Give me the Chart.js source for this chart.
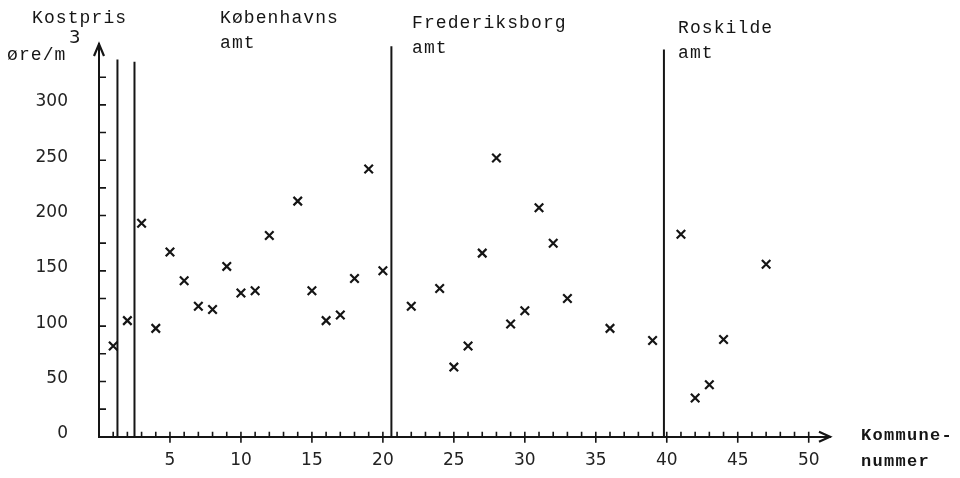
<!DOCTYPE html>
<html lang="da">
<head>
    <meta charset="UTF-8">
    <title>Kostpris pr. kommune</title>
    <script src="https://cdn.jsdelivr.net/npm/chart.js"></script>
    <style>
        body {
            margin: 0;
            padding: 0;
            background: #fff;
        }

        .chart-wrap {
            position: relative;
            width: 960px;
            height: 478px;
        }
    </style>
</head>
<body>
    <div class="chart-wrap">
        <canvas id="kostChart"></canvas>
    </div>

    <script>
        // Kommunenummer and kostpris (øre/m3)
        const kommune = [1, 2, 3, 4, 5, 6, 7, 8, 9, 10, 11, 12, 14, 15, 16, 17, 18, 19, 20,
                         22, 24, 25, 26, 27, 28, 29, 30, 31, 32, 33, 36, 39,
                         41, 42, 43, 44, 47];
        const kostpris = [82, 105, 193, 98, 167, 141, 118, 115, 154, 130, 132, 182, 213, 132, 105, 110, 143, 242, 150,
                          118, 134, 63, 82, 166, 252, 102, 114, 207, 175, 125, 98, 87,
                          183, 35, 47, 88, 156];

        // amt boundaries (x position) and how high each line reaches
        const dividerX = [1.3, 2.5, 20.6, 39.8];
        const dividerTop = [341, 339, 353, 350];

        // axis ticks
        const yTickValues = [0, 25, 50, 75, 100, 125, 150, 175, 200, 225, 250, 275, 300, 325];
        const yLabels = [0, 50, 100, 150, 200, 250, 300];
        const xTickValues = Array.from({ length: 50 }, (_, i) => i + 1);
        const xLabels = [5, 10, 15, 20, 25, 30, 35, 40, 45, 50];

        const amtLabels = [
            { lines: ['Københavns', 'amt'], x: 220, y: 23 },
            { lines: ['Frederiksborg', 'amt'], x: 412, y: 28 },
            { lines: ['Roskilde', 'amt'], x: 678, y: 33 }
        ];

        const INK = '#151515';
        const MONO = '"Liberation Mono", "DejaVu Sans Mono", monospace';

        // axis arrows, inward tick marks and the typed labels
        const paperPlugin = {
            id: 'paper',
            afterDraw(chart) {
                const ctx = chart.ctx;
                const x = chart.scales.x;
                const y = chart.scales.y;
                const x0 = x.left;
                const y0 = y.bottom;

                ctx.save();
                ctx.strokeStyle = INK;
                ctx.fillStyle = INK;
                ctx.lineWidth = 1.6;
                ctx.beginPath();
                xTickValues.forEach(v => {
                    const px = x.getPixelForValue(v);
                    const major = xLabels.includes(v);
                    ctx.moveTo(px, y0 - 5);
                    ctx.lineTo(px, y0 + (major ? 6 : 0));
                });
                yTickValues.forEach(v => {
                    if (v === 0) return;
                    const py = y.getPixelForValue(v);
                    ctx.moveTo(x0, py);
                    ctx.lineTo(x0 + 7, py);
                });
                ctx.stroke();

                // arrow heads
                ctx.lineWidth = 2.2;
                ctx.beginPath();
                ctx.moveTo(x0 - 5, y.top + 12);
                ctx.lineTo(x0, y.top);
                ctx.lineTo(x0 + 5, y.top + 12);
                ctx.moveTo(x.right - 11, y0 - 5);
                ctx.lineTo(x.right, y0);
                ctx.lineTo(x.right - 11, y0 + 5);
                ctx.stroke();

                // typed texts
                ctx.font = '18px ' + MONO;
                ctx.letterSpacing = '1.1px';
                ctx.textBaseline = 'alphabetic';
                ctx.textAlign = 'left';
                ctx.fillText('Kostpris', 32, 23);
                ctx.fillText('øre/m', 7, 60);
                amtLabels.forEach(a => {
                    a.lines.forEach((line, i) => ctx.fillText(line, a.x, a.y + i * 25));
                });

                ctx.font = 'bold 17px ' + MONO;
                ctx.letterSpacing = '1.3px';
                ctx.fillText('Kommune-', 861, 440);
                ctx.fillText('nummer', 861, 466);

                ctx.letterSpacing = '0px';
                ctx.font = '18px "DejaVu Sans", sans-serif';
                ctx.fillText('3', 69, 43);
                ctx.restore();
            }
        };

        const points = kommune.map((k, i) => ({ x: k, y: kostpris[i] }));

        const dividers = dividerX.map((dx, i) => ({
            type: 'line',
            data: [{ x: dx, y: 0 }, { x: dx, y: dividerTop[i] }],
            borderColor: INK,
            borderWidth: 2,
            pointRadius: 0,
            fill: false
        }));

        new Chart(document.getElementById('kostChart'), {
            type: 'scatter',
            data: {
                datasets: [{
                    label: 'Kostpris',
                    data: points,
                    pointStyle: 'crossRot',
                    pointRadius: 6,
                    borderColor: INK,
                    borderWidth: 2.2
                }].concat(dividers)
            },
            options: {
                responsive: true,
                maintainAspectRatio: false,
                animation: false,
                layout: {
                    padding: { left: 0, right: 130, top: 44, bottom: 0 }
                },
                plugins: {
                    legend: { display: false },
                    tooltip: { enabled: false }
                },
                scales: {
                    x: {
                        type: 'linear',
                        min: 0,
                        max: 51.5,
                        afterBuildTicks: s => { s.ticks = xTickValues.map(v => ({ value: v })); },
                        afterFit: s => { s.height = 37; },
                        grid: { display: true, drawOnChartArea: false, drawTicks: false },
                        border: { display: true, color: INK, width: 2 },
                        ticks: {
                            autoSkip: false,
                            maxRotation: 0,
                            padding: 14,
                            color: '#222',
                            font: { family: '"DejaVu Sans", sans-serif', size: 17 },
                            callback: v => xLabels.includes(v) ? String(v) : ''
                        }
                    },
                    y: {
                        type: 'linear',
                        min: 0,
                        max: 355,
                        afterBuildTicks: s => { s.ticks = yTickValues.map(v => ({ value: v })); },
                        afterFit: s => { s.width = 99; },
                        grid: { display: true, drawOnChartArea: false, drawTicks: false },
                        border: { display: true, color: INK, width: 2 },
                        ticks: {
                            autoSkip: false,
                            padding: 31,
                            labelOffset: -3,
                            color: '#222',
                            font: { family: '"DejaVu Sans", sans-serif', size: 17 },
                            callback: v => yLabels.includes(v) ? String(v) : ''
                        }
                    }
                }
            },
            plugins: [paperPlugin]
        });
    </script>
</body>
</html>
